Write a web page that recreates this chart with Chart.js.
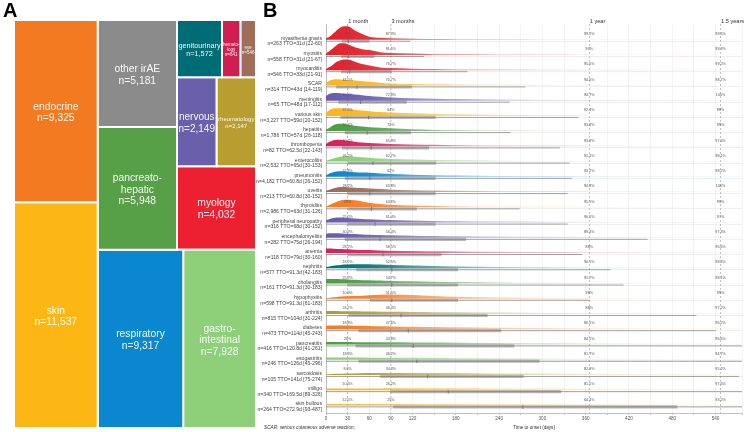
<!DOCTYPE html>
<html><head><meta charset="utf-8">
<script src="https://cdn.jsdelivr.net/npm/chart.js@4.4.1/dist/chart.umd.min.js"></script>
<style>
html,body{margin:0;padding:0;background:#fff;}
#wrap{position:relative;width:747px;height:432px;overflow:hidden;font-family:"Liberation Sans",Arial,sans-serif;}
#cA{position:absolute;left:0;top:0;}
#cB{position:absolute;left:250px;top:0;}
.pl{position:absolute;font-weight:bold;font-size:20px;line-height:20px;color:#000;}
#foot{position:absolute;left:264px;top:424px;font-size:9.4px;font-style:italic;color:#333;transform:scale(0.5);transform-origin:0 0;white-space:nowrap;}
</style></head>
<body>
<div id="wrap">
<canvas id="cA" width="257" height="432"></canvas>
<canvas id="cB" width="497" height="432"></canvas>
<div class="pl" style="left:3px;top:0px;">A</div>
<div class="pl" style="left:263px;top:0px;">B</div>
<div id="foot">SCAR: serious cutaneous adverse reaction;</div>
</div>
<script>
// ---------- Panel A data ----------
const groupNames = ['endocrine','skin','other irAE','pancreato-hepatic','respiratory','gastro-intestinal','genitourinary','hematology','eye','nervous','rheumatology','myology'];
const groupLabelLines = [['endocrine'],['skin'],['other irAE'],['pancreato-','hepatic'],['respiratory'],['gastro-','intestinal'],['genitourinary'],['hemato-','logy'],['eye'],['nervous'],['rheumatology'],['myology']];
const groupCounts = [9325,11537,5181,5948,9317,7928,1572,641,546,2149,2147,4032];
const groupColors = ['#f37a21','#fdb714','#8b8b8b','#58a048','#0a87cf','#8ed07a','#006c75','#d01e50','#9f6e5a','#695faa','#b89e30','#ec2030'];
const groupFontSizes = [10.3,10.3,10.3,10.3,10.3,10.3,7.3,4.5,4.5,10,6,10.3];
// nesting of the treemap (h = side by side, v = stacked)
const treeNesting = {d:'h', c:[{d:'v', c:[0,1]}, {d:'v', c:[{d:'h', c:[{d:'v', c:[2,3]}, {d:'v', c:[{d:'h', c:[6,7,8]}, {d:'h', c:[9,10]}, 11]}]}, {d:'h', c:[4,5]}]}]};

// ---------- Panel B data ----------
const rowNames = ['myasthenia gravis','myositis','myocarditis','SCAR','meningitis','various skin','hepatitis','thrombopenia','enterocolitis','pneumonitis','uveitis','thyroiditis','peripheral neuropathy','encephalomyelitis','anemia','nephritis','cholangitis','hypophysitis','arthritis','diabetes','pancreatitis','esogastritis','sarcoidosis','vitiligo','skin bullous'];
const rowN = [263,558,546,314,65,3227,1786,82,2532,4182,213,2986,316,282,118,577,161,598,815,473,416,246,105,340,264];
const rowTTO = [31,31,33,43,48,59,57,62.5,65,60.8,60.8,63,68,75,79,91.3,91.3,91.3,104,114,120.8,126,141,169.5,272.9];
const rowQ1 = [22,21,21,14,17,20,26,22,30,26,30,31,30,26,30,42,30,61,31,45,41,45,75,89,93];
const rowQ3 = [60,67,91,119,112,152,118,143,153,152,152,126,152,194,160,183,183,183,224,243,261,296,274,326,487];
const pct1m = [49,48.7,47.4,44.5,43.2,37.3,33.4,40.2,26.2,32.8,28.2,29,25.5,30.9,28.2,18.2,25.2,10.9,24.7,18.8,20,18.3,8.6,10.6,12.5];
const pct3m = [87.3,81.5,76.7,70.7,72.8,64,72,65.9,62.7,62,63.8,64.6,61.4,56.4,58.5,52.5,54.7,51.5,46.3,47.6,43.8,46.2,34.3,26.2,25];
const pct1y = [99.2,97,95.6,94.6,94.7,92.4,93.8,93.9,91.1,93.2,94.8,95.5,90.5,89.4,88,90.5,91.2,98,88,86.5,84.5,81.7,82.9,81.5,64.4];
const pct18m = [99.6,99.3,99.2,98.7,100,98,99,97.6,98.1,98.2,100,99,97,97.3,96.6,98.4,98.1,99,97.2,96.2,96.6,94.7,95.2,97.6,93.2];
const timeMarks = [30,90,365,547];
const timeMarkLabels = ['1 month','3 months','1 year','1.5 years'];
const xTickLabels = [0,30,60,90,120,180,240,300,360,420,480,540];
const densDays = [0,5,10,15,20,25,30,40,50,60,75,90,120,150,180,240,300,365,450,547,577];
const densMyasthenia = [0.1,0.2,0.4,0.62,0.8,0.88,0.88,0.6,0.38,0.2,0.12,0.1,0.07,0.04,0.03,0.03,0.02,0.02,0.01,0.01,0.01];
const densMyositis = [0.1,0.25,0.45,0.65,0.76,0.77,0.7,0.5,0.38,0.32,0.18,0.12,0.09,0.05,0.04,0.03,0.03,0.02,0.02,0.02,0.02];
const densMyocarditis = [0.08,0.2,0.38,0.55,0.65,0.7,0.7,0.55,0.4,0.3,0.18,0.14,0.1,0.07,0.05,0.04,0.03,0.03,0.03,0.02,0.02];
const densSCAR = [0.15,0.3,0.38,0.4,0.39,0.37,0.35,0.32,0.28,0.24,0.18,0.13,0.09,0.07,0.06,0.04,0.03,0.03,0.02,0.01,0.01];
const densMeningitis = [0.3,0.45,0.5,0.5,0.48,0.46,0.44,0.4,0.35,0.3,0.25,0.2,0.15,0.12,0.1,0.07,0.05,0.04,0.04,0.03,0.03];
const densVariousSkin = [0.2,0.38,0.48,0.5,0.5,0.48,0.45,0.4,0.35,0.31,0.26,0.22,0.17,0.13,0.1,0.07,0.05,0.04,0.03,0.03,0.03];
const densHepatitis = [0.1,0.22,0.38,0.46,0.48,0.46,0.42,0.36,0.3,0.26,0.22,0.18,0.12,0.08,0.06,0.04,0.03,0.03,0.02,0.02,0.02];
const densThrombopenia = [0.15,0.3,0.4,0.44,0.43,0.4,0.36,0.3,0.25,0.22,0.18,0.15,0.12,0.1,0.08,0.05,0.05,0.04,0.03,0.03,0.03];
const densEnterocolitis = [0.05,0.12,0.2,0.27,0.32,0.35,0.35,0.32,0.28,0.25,0.2,0.17,0.13,0.1,0.08,0.06,0.04,0.03,0.03,0.02,0.02];
const densPneumonitis = [0.1,0.22,0.3,0.35,0.37,0.36,0.34,0.3,0.28,0.27,0.22,0.18,0.14,0.11,0.09,0.06,0.05,0.04,0.03,0.03,0.03];
const densUveitis = [0.08,0.16,0.24,0.3,0.33,0.33,0.32,0.29,0.26,0.24,0.2,0.16,0.12,0.1,0.08,0.06,0.05,0.04,0.03,0.03,0.03];
const densThyroiditis = [0.05,0.15,0.26,0.36,0.44,0.49,0.5,0.46,0.38,0.3,0.22,0.17,0.11,0.08,0.06,0.04,0.03,0.02,0.02,0.02,0.02];
const densNeuropathy = [0.15,0.24,0.3,0.33,0.33,0.32,0.3,0.27,0.24,0.22,0.19,0.16,0.13,0.1,0.08,0.06,0.05,0.04,0.03,0.03,0.03];
const densEncephalomyelitis = [0.25,0.3,0.3,0.29,0.28,0.27,0.26,0.24,0.22,0.2,0.18,0.16,0.14,0.12,0.1,0.08,0.06,0.05,0.04,0.03,0.03];
const densAnemia = [0.3,0.29,0.28,0.27,0.26,0.25,0.24,0.22,0.2,0.19,0.17,0.15,0.13,0.11,0.1,0.08,0.06,0.05,0.04,0.03,0.03];
const densNephritis = [0.08,0.12,0.16,0.19,0.22,0.24,0.25,0.27,0.27,0.26,0.24,0.22,0.18,0.15,0.12,0.08,0.06,0.04,0.03,0.03,0.03];
const densCholangitis = [0.28,0.3,0.3,0.29,0.28,0.27,0.26,0.24,0.22,0.21,0.19,0.17,0.14,0.12,0.1,0.07,0.05,0.04,0.03,0.03,0.03];
const densHypophysitis = [0.03,0.06,0.09,0.12,0.14,0.16,0.17,0.18,0.2,0.22,0.26,0.27,0.24,0.18,0.13,0.08,0.05,0.03,0.02,0.02,0.02];
const densArthritis = [0.2,0.2,0.19,0.19,0.18,0.18,0.17,0.17,0.16,0.16,0.15,0.14,0.13,0.12,0.11,0.09,0.07,0.06,0.05,0.04,0.04];
const densDiabetes = [0.22,0.24,0.25,0.25,0.25,0.24,0.24,0.23,0.22,0.21,0.19,0.18,0.16,0.14,0.12,0.1,0.08,0.06,0.05,0.04,0.04];
const densPancreatitis = [0.16,0.16,0.16,0.16,0.16,0.16,0.16,0.15,0.15,0.15,0.14,0.14,0.13,0.12,0.11,0.09,0.07,0.06,0.05,0.04,0.04];
const densEsogastritis = [0.14,0.14,0.14,0.14,0.14,0.14,0.14,0.14,0.14,0.13,0.13,0.13,0.12,0.11,0.1,0.09,0.08,0.06,0.05,0.04,0.04];
const densSarcoidosis = [0.04,0.05,0.06,0.07,0.08,0.08,0.09,0.1,0.11,0.12,0.13,0.13,0.13,0.13,0.12,0.1,0.09,0.07,0.05,0.04,0.04];
const densVitiligo = [0.1,0.1,0.1,0.1,0.1,0.1,0.1,0.1,0.1,0.11,0.11,0.12,0.12,0.12,0.12,0.11,0.1,0.09,0.08,0.06,0.06];
const densSkinBullous = [0.09,0.09,0.09,0.09,0.09,0.09,0.09,0.09,0.09,0.09,0.09,0.09,0.09,0.09,0.09,0.09,0.09,0.09,0.08,0.07,0.07];
const rowDensities = [densMyasthenia,densMyositis,densMyocarditis,densSCAR,densMeningitis,densVariousSkin,densHepatitis,densThrombopenia,densEnterocolitis,densPneumonitis,densUveitis,densThyroiditis,densNeuropathy,densEncephalomyelitis,densAnemia,densNephritis,densCholangitis,densHypophysitis,densArthritis,densDiabetes,densPancreatitis,densEsogastritis,densSarcoidosis,densVitiligo,densSkinBullous];
const rowColors = ['#e41f2b','#e41f2b','#e41f2b','#fbb41a','#6a5bab','#fbb41a','#4b9c43','#d81e5b','#8bcf77','#0b84cc','#9a6b58','#f57a22','#6a5bab','#6a5bab','#d81e5b','#00707a','#4b9c43','#f57a22','#b59b2b','#f57a22','#4b9c43','#8bcf77','#b59b2b','#fbb41a','#f2b946'];

const FONT = '"Liberation Sans", Arial, sans-serif';
const X_MAX = 577;
const nRows = rowNames.length;

// ---------- Panel A: treemap ----------
function sumNode(n){ return typeof n === 'number' ? groupCounts[n] : n.c.reduce((s,c)=>s+sumNode(c),0); }
function layoutNode(n,x0,y0,x1,y1,out){
  if (typeof n === 'number'){ out[n] = {x0,y0,x1,y1}; return; }
  const tot = sumNode(n); let pos = n.d === 'h' ? x0 : y0;
  n.c.forEach(c => {
    const f = sumNode(c)/tot;
    if (n.d === 'h'){ const w=(x1-x0)*f; layoutNode(c,pos,y0,pos+w,y1,out); pos+=w; }
    else { const h=(y1-y0)*f; layoutNode(c,x0,pos,x1,pos+h,out); pos+=h; }
  });
}
const rects = []; layoutNode(treeNesting,0,0,1,1,rects);

const treeLabels = {
  id:'treeLabels',
  afterDatasetsDraw(chart){
    const {ctx} = chart; const xs = chart.scales.x, ys = chart.scales.y;
    rects.forEach((r,i) => {
      const cx = (xs.getPixelForValue(r.x0)+xs.getPixelForValue(r.x1))/2;
      const cy = (ys.getPixelForValue(r.y0)+ys.getPixelForValue(r.y1))/2 + 1.5;
      const lines = [...groupLabelLines[i], 'n=' + groupCounts[i].toLocaleString('en-US')];
      const fs = groupFontSizes[i], lh = fs*1.13;
      ctx.save();
      ctx.fillStyle = 'rgba(255,255,255,0.94)';
      ctx.font = fs + 'px ' + FONT;
      ctx.textAlign = 'center'; ctx.textBaseline = 'middle';
      lines.forEach((t,k) => ctx.fillText(t, cx, cy + (k-(lines.length-1)/2)*lh));
      ctx.restore();
    });
  }
};

new Chart(document.getElementById('cA'), {
  type:'line',
  data:{ datasets: rects.map((r,i) => ({
    label: groupNames[i],
    data:[{x:r.x0,y:r.y0},{x:r.x1,y:r.y0},{x:r.x1,y:r.y1},{x:r.x0,y:r.y1},{x:r.x0,y:r.y0}],
    backgroundColor: groupColors[i], borderColor:'#ffffff', borderWidth:2,
    fill:'shape', pointRadius:0, tension:0
  }))},
  options:{
    responsive:false, animation:false, events:[],
    layout:{padding:{left:14,top:20,right:1,bottom:4}},
    scales:{ x:{type:'linear',display:false,min:0,max:1}, y:{type:'linear',display:false,min:0,max:1,reverse:true} },
    plugins:{legend:{display:false}, tooltip:{enabled:false}}
  },
  plugins:[treeLabels]
});

// ---------- Panel B: ridges ----------
function rgba(hex,a){ const v=parseInt(hex.slice(1),16); return `rgba(${(v>>16)&255},${(v>>8)&255},${v&255},${a})`; }
function ridgeFill(color){
  return (c) => {
    const ch = c.chart, a = ch.chartArea;
    if (!a) return rgba(color,0.9);
    const g = ch.ctx.createLinearGradient(a.left,0,a.right,0);
    [[0,1],[60,0.92],[120,0.7],[240,0.38],[365,0.2],[X_MAX,0.08]].forEach(([d,al]) => g.addColorStop(d/X_MAX, rgba(color,al)));
    return g;
  };
}
const datasets = [];
rowNames.forEach((name,i) => {
  const base = nRows - i;
  const lvl = base - 0.1;
  const iqr = rowQ3[i]-rowQ1[i];
  datasets.push({ label:name, data: densDays.map((d,k)=>({x:d,y:base+rowDensities[i][k]})),
    fill:{target:{value:base}}, backgroundColor: ridgeFill(rowColors[i]), borderWidth:0, borderColor:'rgba(0,0,0,0)',
    pointRadius:0, tension:0.4, cubicInterpolationMode:'monotone' });
  datasets.push({ label:name+' whisker', data:[{x:Math.max(0,rowQ1[i]-1.5*iqr),y:lvl},{x:Math.min(X_MAX,rowQ3[i]+1.5*iqr),y:lvl}],
    borderColor:'rgba(115,115,115,0.8)', borderWidth:0.8, pointRadius:0, fill:false });
  datasets.push({ label:name+' IQR', data:[{x:rowQ1[i],y:lvl},{x:rowQ3[i],y:lvl}],
    borderColor:'rgba(140,140,140,0.6)', borderWidth:3.2, borderCapStyle:'butt', pointRadius:0, fill:false });
  datasets.push({ label:name+' median', data:[{x:rowTTO[i],y:lvl}], showLine:false,
    pointStyle:'line', rotation:90, pointRadius:1.8, pointBorderColor:'#333', pointBorderWidth:0.8, borderColor:'#333' });
});

const annot = {
  id:'annot',
  beforeDatasetsDraw(chart){
    const {ctx, chartArea:a} = chart; const xs = chart.scales.x;
    ctx.save(); ctx.strokeStyle = '#a8a8a8'; ctx.lineWidth = 0.7; ctx.setLineDash([2,2]);
    timeMarks.forEach(d => { const px = xs.getPixelForValue(d); ctx.beginPath(); ctx.moveTo(px,a.top); ctx.lineTo(px,a.bottom); ctx.stroke(); });
    ctx.restore();
  },
  afterDatasetsDraw(chart){
    const {ctx, chartArea:a} = chart; const xs = chart.scales.x, ys = chart.scales.y;
    ctx.save();
    ctx.fillStyle = '#333'; ctx.font = '5.6px ' + FONT; ctx.textAlign = 'left'; ctx.textBaseline = 'middle';
    timeMarks.forEach((d,k) => ctx.fillText(timeMarkLabels[k], xs.getPixelForValue(d)+0.5, a.top-3));
    ctx.fillStyle = '#555'; ctx.font = '3.7px ' + FONT; ctx.textAlign = 'center';
    const cols = [pct1m,pct3m,pct1y,pct18m];
    rowNames.forEach((_,i) => {
      const py = ys.getPixelForValue(nRows - i + 0.38);
      timeMarks.forEach((d,k) => ctx.fillText(cols[k][i] + '%', xs.getPixelForValue(d), py));
    });
    ctx.restore();
  }
};

new Chart(document.getElementById('cB'), {
  type:'line',
  data:{datasets},
  options:{
    responsive:false, animation:false, events:[],
    layout:{padding:{left:0,top:24,right:2,bottom:0}},
    scales:{
      x:{ type:'linear', min:0, max:X_MAX,
        afterFit:(s)=>{ s.height = 19; },
        ticks:{ stepSize:30, autoSkip:false, maxRotation:0, padding:1, color:'#555', font:{family:FONT,size:4.6},
          callback:(v)=> xTickLabels.includes(v) ? String(v) : '' },
        grid:{ color:'#ececec', lineWidth:0.6, drawTicks:true, tickLength:2, tickColor:'#999' },
        border:{ display:true, color:'#999', width:0.6 },
        title:{ display:true, text:'Time to onset (days)', color:'#333', font:{family:FONT,size:4.6}, padding:{top:0,bottom:2} }
      },
      y:{ type:'linear', min:0.5, max:26.03,
        afterFit:(s)=>{ s.width = 76; },
        afterBuildTicks:(s)=>{ s.ticks = rowNames.map((_,i)=>({value: i + 1 - 0.1})); },
        ticks:{ autoSkip:false, padding:4, color:'#444', font:{family:'"Liberation Sans Narrow", "Liberation Sans", Arial, sans-serif', size:5.1, lineHeight:1.12},
          callback:(v)=>{ const j = nRows - Math.round(v + 0.1);
            return [rowNames[j], `n=${rowN[j].toLocaleString('en-US')} TTO=${rowTTO[j]}d [${rowQ1[j]}-${rowQ3[j]}]`]; } },
        grid:{ color:'#e4e4e4', lineWidth:0.6, drawTicks:false },
        border:{ display:true, color:'#999', width:0.6 }
      }
    },
    plugins:{legend:{display:false}, tooltip:{enabled:false}}
  },
  plugins:[annot]
});
</script>
</body></html>
